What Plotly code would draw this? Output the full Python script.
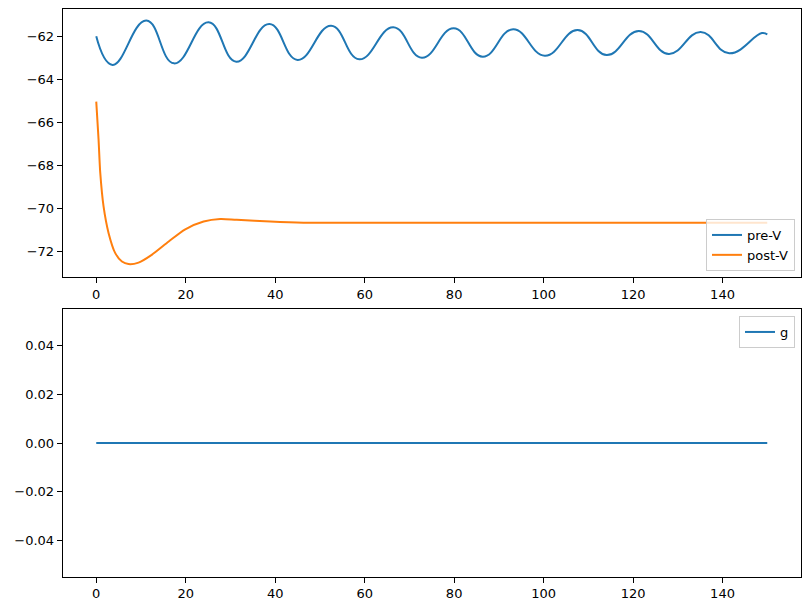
import plotly.graph_objects as go

# pre-V: extrema
pre_t = [0, 3.65, 11.2, 17.4, 25.1, 31.3, 38.7, 45.0, 52.5, 58.8, 66.4, 72.8, 79.9, 86.4,
         93.2, 100.3, 107.6, 114.1, 121.3, 128.0, 135.1, 141.5, 148.8, 150]
pre_v = [-62.0, -63.33, -61.27, -63.26, -61.35, -63.18, -61.43, -63.10, -61.51, -63.07,
         -61.58, -63.0, -61.63, -62.95, -61.67, -62.9, -61.71, -62.87, -61.75, -62.82,
         -61.8, -62.79, -61.85, -61.92]

post_t = [0, 0.52, 0.9, 1.64, 2.76, 4.25, 5.74, 7.2, 9.45, 12.4, 16.2, 19.9, 24.0, 27.7, 31.4,
          38.9, 46.3, 60, 150]
post_v = [-65.04, -66.82, -68.37, -69.93, -71.16, -72.09, -72.48, -72.6, -72.53, -72.17,
          -71.55, -70.98, -70.62, -70.5, -70.54, -70.62, -70.67, -70.68, -70.68]

g_t = [0, 150]
g_v = [0, 0]

fig = go.Figure()
fig.add_trace(go.Scatter(x=pre_t, y=pre_v, mode="lines", name="pre-V",
                         line=dict(color="#1f77b4", width=2, shape="spline", smoothing=1.3),
                         xaxis="x", yaxis="y", legend="legend"))
fig.add_trace(go.Scatter(x=post_t, y=post_v, mode="lines", name="post-V",
                         line=dict(color="#ff7f0e", width=2, shape="spline", smoothing=0.8),
                         xaxis="x", yaxis="y", legend="legend"))
fig.add_trace(go.Scatter(x=g_t, y=g_v, mode="lines", name="g",
                         line=dict(color="#1f77b4", width=2),
                         xaxis="x2", yaxis="y2", legend="legend2"))

W, H = 811, 611
xd = [62.7 / W, 800.8 / W]
ax_common = dict(showgrid=False, zeroline=False, showline=True, linecolor="black",
                 linewidth=1, mirror=True, ticks="outside", ticklen=5, tickcolor="black",
                 tickfont=dict(family="DejaVu Sans", size=13, color="black"))

fig.update_layout(
    width=W, height=H, margin=dict(l=0, r=0, t=0, b=0),
    paper_bgcolor="white", plot_bgcolor="white",
    font=dict(family="DejaVu Sans", size=13, color="black"),
    xaxis=dict(domain=xd, anchor="y", range=[-7.5, 157.5], dtick=20, tick0=0, **ax_common),
    yaxis=dict(domain=[1 - 277 / H, 1 - 9 / H], anchor="x", range=[-73.2, -60.73],
               dtick=2, tick0=0, **ax_common),
    xaxis2=dict(domain=xd, anchor="y2", range=[-7.5, 157.5], dtick=20, tick0=0, **ax_common),
    yaxis2=dict(domain=[1 - 576.7 / H, 1 - 309.3 / H], anchor="x2", range=[-0.055, 0.055],
                dtick=0.02, tick0=0, tickformat=".2f", **ax_common),
    legend=dict(x=795 / W, y=1 - 271 / H, xanchor="right", yanchor="bottom",
                bgcolor="rgba(255,255,255,0.8)", bordercolor="#cccccc", borderwidth=1,
                font=dict(family="DejaVu Sans", size=13)),
    legend2=dict(x=795 / W, y=1 - 316 / H, xanchor="right", yanchor="top",
                 bgcolor="rgba(255,255,255,0.8)", bordercolor="#cccccc", borderwidth=1,
                 font=dict(family="DejaVu Sans", size=13)),
)

fig.write_html("out.html")
